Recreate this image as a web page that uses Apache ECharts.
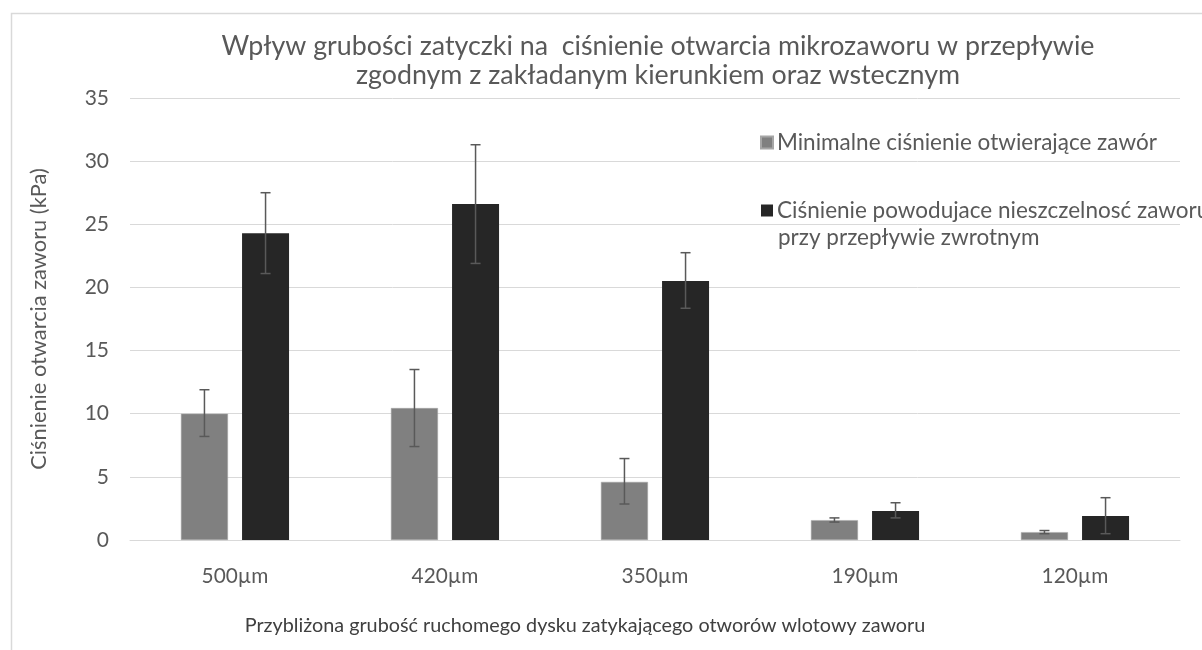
<!DOCTYPE html>
<html><head><meta charset="utf-8">
<script src="https://cdn.jsdelivr.net/npm/echarts@6/dist/echarts.min.js"></script>
<style>html,body{margin:0;padding:0;background:#fff}#c{width:1202px;height:650px}</style>
</head><body><div id="c"></div>
<script>
const categories = ['500µm','420µm','350µm','190µm','120µm'];
const minValues = [10.0, 10.45, 4.6, 1.57, 0.62];
const minLow    = [8.2, 7.4, 2.85, 1.42, 0.5];
const minHigh   = [11.9, 13.5, 6.45, 1.75, 0.75];
const leakValues = [24.3, 26.6, 20.5, 2.3, 1.9];
const leakLow    = [21.1, 21.9, 18.35, 1.75, 0.5];
const leakHigh   = [27.5, 31.3, 22.75, 2.95, 3.35];
const yTicks = [0,5,10,15,20,25,30,35];
const seriesNames = ['Minimalne ciśnienie otwierające zawór','Ciśnienie powodujace nieszczelnosć zaworu'];
const legendSecondLine = 'przy przepływie zwrotnym';
const titleText = 'Wpływ grubości zatyczki na  ciśnienie otwarcia mikrozaworu w przepływie\nzgodnym z zakładanym kierunkiem oraz wstecznym';
const yName = 'Ciśnienie otwarcia zaworu (kPa)';
const xName = 'Przybliżona grubość ruchomego dysku zatykającego otworów wlotowy zaworu';

const FONT = 'Lato, "Open Sans", sans-serif';
const BAR_W = 47, GAP = 0.30;
const off = (BAR_W*(2+GAP))/2 - BAR_W/2;

function errSeries(low, high, idx) {
  return {
    type: 'custom', z: 5, silent: true,
    data: categories.map((c,i)=>[i, low[i], high[i]]),
    renderItem: function(params, api) {
      const x = api.value(0);
      const pLo = api.coord([x, api.value(1)]);
      const pHi = api.coord([x, api.value(2)]);
      const cx = pLo[0] + (idx === 0 ? -off : off);
      const cap = 5;
      const st = {stroke:'#595959', lineWidth:1.5};
      return {type:'group', children:[
        {type:'line', shape:{x1:cx,y1:pLo[1],x2:cx,y2:pHi[1]}, style:st},
        {type:'line', shape:{x1:cx-cap,y1:pLo[1],x2:cx+cap,y2:pLo[1]}, style:st},
        {type:'line', shape:{x1:cx-cap,y1:pHi[1],x2:cx+cap,y2:pHi[1]}, style:st}
      ]};
    }
  };
}

const chart = echarts.init(document.getElementById('c'));
chart.setOption({
  animation: false,
  textStyle: {fontFamily: FONT},
  title: {text: titleText, left: 653, textAlign: 'center', top: 27,
    textStyle: {fontFamily: FONT, fontSize: 26.8, fontWeight: 'normal', color: '#595959', lineHeight: 29}},
  grid: {left: 130, right: 22, top: 98, bottom: 110, containLabel: false},
  legend: {orient: 'vertical', left: 755, top: 126, itemGap: 45, itemWidth: 12, itemHeight: 12,
    icon: 'rect', selectedMode: false,
    textStyle: {fontFamily: FONT, fontSize: 22.5, color: '#595959', padding: [0,0,0,-1]},
    data: seriesNames},
  xAxis: {type: 'category', data: categories,
    axisLine: {lineStyle: {color: '#d9d9d9', width: 1}}, axisTick: {show: false},
    axisLabel: {fontFamily: FONT, fontSize: 20.8, color: '#595959', margin: 26}},
  yAxis: {type: 'value', min: 0, max: 35, interval: 5,
    axisLine: {show: false}, axisTick: {show: false},
    splitLine: {lineStyle: {color: '#d9d9d9', width: 1}},
    axisLabel: {fontFamily: FONT, fontSize: 21, color: '#595959', margin: 21,
      formatter: v => yTicks.includes(v) ? String(v) : ''},
    name: yName, nameLocation: 'middle', nameGap: 80, nameRotate: 90,
    nameTextStyle: {fontFamily: FONT, fontSize: 21.8, color: '#595959'}},
  series: [
    {name: seriesNames[0], type: 'bar', data: minValues, barWidth: BAR_W, barGap: (GAP*100)+'%',
      itemStyle: {color: '#808080', borderColor: '#a6a6a6', borderWidth: 0.5}},
    {name: seriesNames[1], type: 'bar', data: leakValues, barWidth: BAR_W, barGap: (GAP*100)+'%',
      itemStyle: {color: '#262626'}},
    errSeries(minLow, minHigh, 0),
    errSeries(leakLow, leakHigh, 1)
  ],
  graphic: [
    {type: 'rect', shape: {x: 11.5, y: 13.5, width: 1250, height: 700}, z: -10,
      style: {fill: 'none', stroke: '#d9d9d9', lineWidth: 1.5}},
    {type: 'text', left: 778, top: 226,
      style: {text: legendSecondLine, fontFamily: FONT, fontSize: 22.5, fill: '#595959'}},
    {type: 'text', x: 585, y: 626,
      style: {text: xName, fontFamily: FONT, fontSize: 19.8, fill: '#404040', align: 'center', verticalAlign: 'middle'}}
  ]
});
</script></body></html>
